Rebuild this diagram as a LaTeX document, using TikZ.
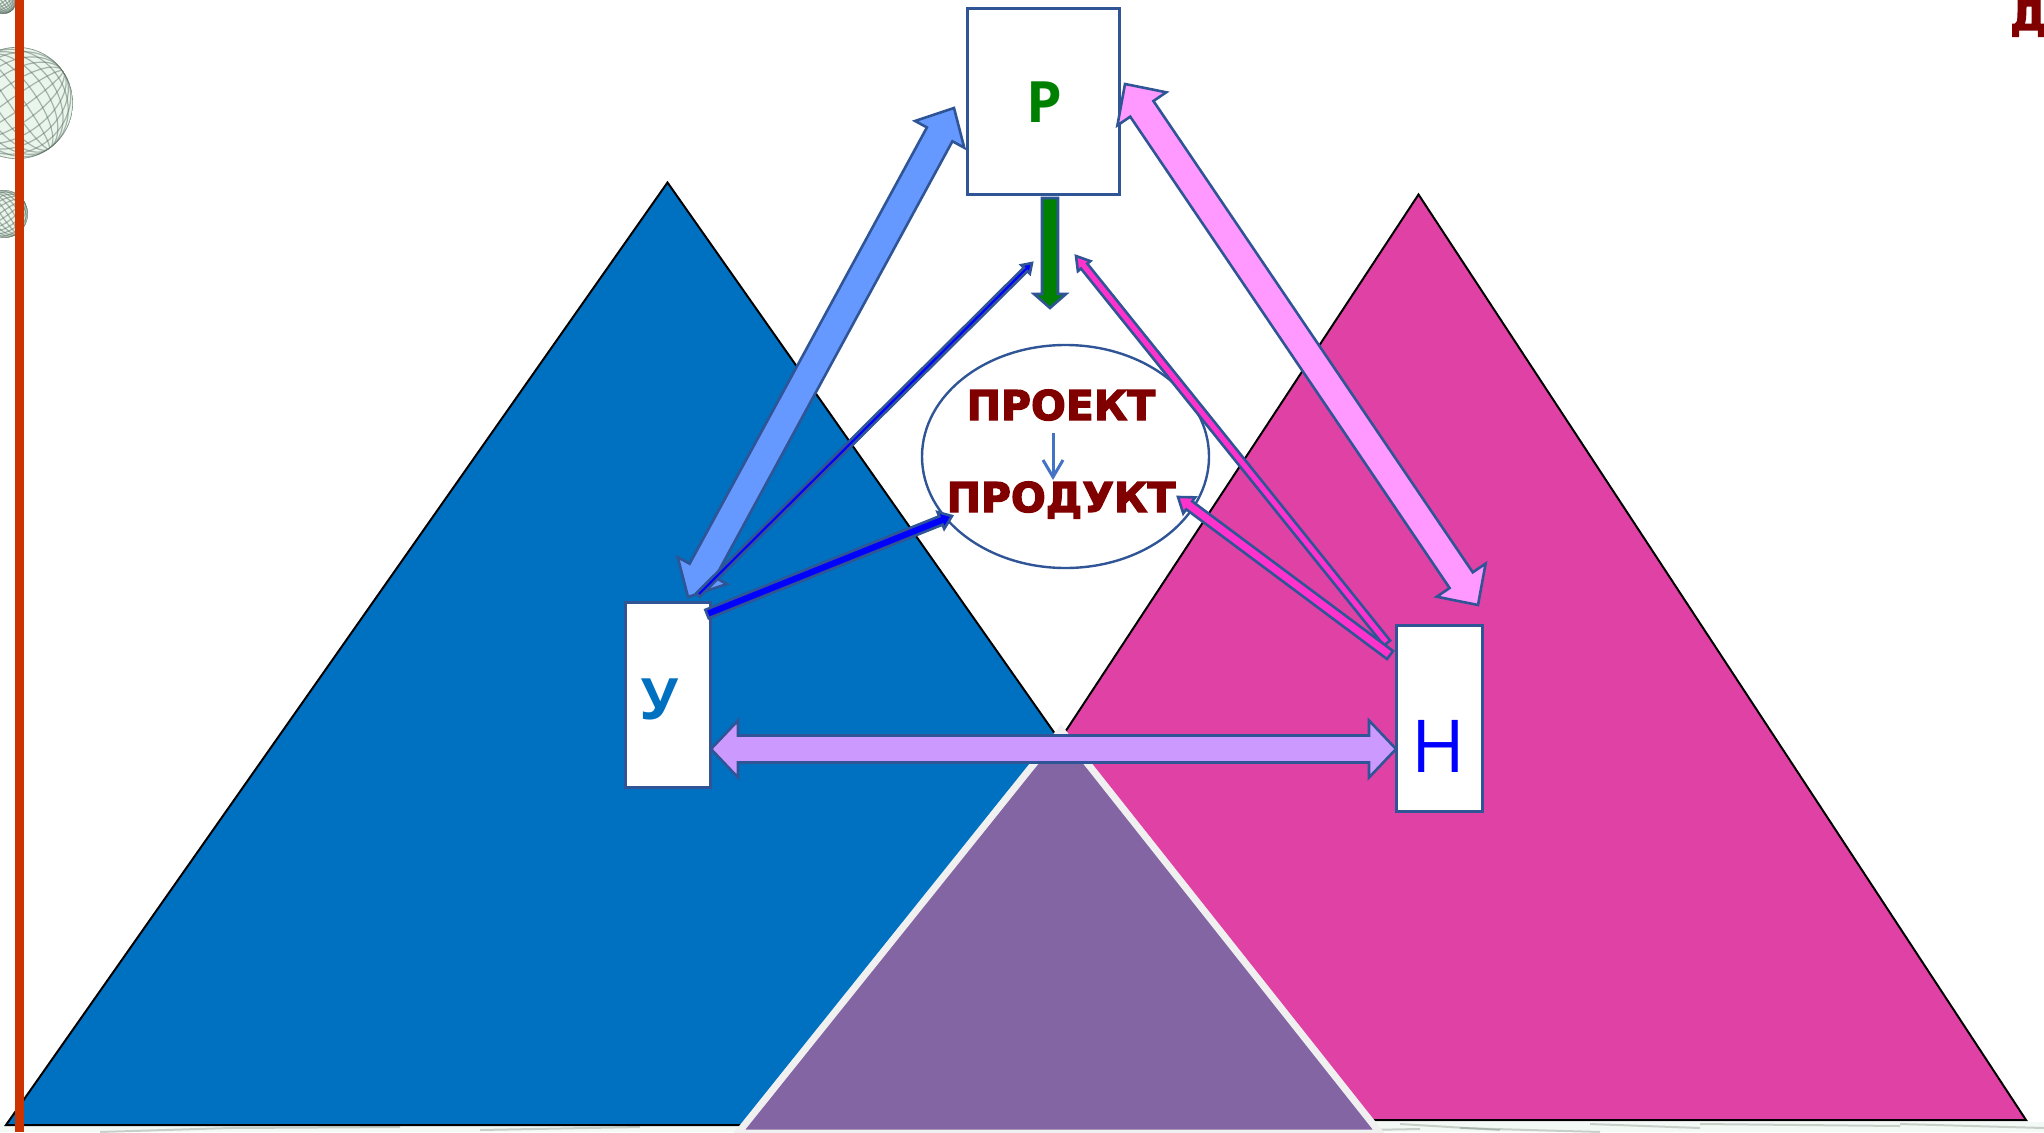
\documentclass[tikz,border=0pt]{standalone}
\usepackage{fontspec}
\setmainfont[BoldFont={DejaVu Sans Bold},BoldFeatures={FakeBold=3}]{DejaVu Sans}
\newfontfamily\labelfont{Open Sans}
\usepackage{tikz}
\usetikzlibrary{calc,shapes.geometric}
\definecolor{outline}{HTML}{2F5597}
\definecolor{deepred}{HTML}{800000}
\definecolor{blueside}{HTML}{0070C0}
\definecolor{pinkside}{HTML}{E041A5}
\definecolor{midside}{HTML}{8265A2}
\definecolor{redline}{HTML}{CC3300}
\definecolor{skyarrow}{HTML}{6699FF}
\definecolor{rosearrow}{HTML}{FF99FF}
\definecolor{lilacarrow}{HTML}{CC99FF}
\definecolor{hotarrow}{HTML}{FF33CC}
\definecolor{smallarrow}{HTML}{4472C4}
\definecolor{meshgrey}{HTML}{5F7468}
\definecolor{meshpale}{HTML}{EAF5EC}
\tikzset{
	side/.style={draw=black,line width=2pt,line join=miter},
	role/.style={draw=outline,line width=2.6pt,fill=white,inner sep=0pt},
	linkarrow/.style={draw=outline,line width=2.6pt,line join=miter},
	title/.style={text=deepred,inner sep=0pt,font=\fontsize{41}{48}\selectfont\bfseries},
	mesh/.style={draw=meshgrey,line width=1.2pt,opacity=.5},
	streak/.style={draw=meshgrey,line width=2pt,opacity=.3}
}
% #1 style, #2 from, #3 to, #4 half shaft, #5 half head, #6 head length
\newcommand{\onearrow}[6]{
	\coordinate (hb) at ($(#3)!#6pt!(#2)$);
	\coordinate (tb) at (#2);
	\draw[#1]
	($(tb)!#4pt!90:(hb)$) -- ($(hb)!#4pt!-90:(tb)$) -- ($(hb)!#5pt!-90:(tb)$) -- (#3)
	-- ($(hb)!#5pt!90:(tb)$) -- ($(hb)!#4pt!90:(tb)$) -- ($(tb)!#4pt!-90:(hb)$) -- cycle;
}
\newcommand{\botharrow}[6]{
	\coordinate (ha) at ($(#2)!#6pt!(#3)$);
	\coordinate (hb) at ($(#3)!#6pt!(#2)$);
	\draw[#1]
	(#2) -- ($(ha)!#5pt!90:(hb)$) -- ($(ha)!#4pt!90:(hb)$) -- ($(hb)!#4pt!-90:(ha)$) -- ($(hb)!#5pt!-90:(ha)$)
	-- (#3)
	-- ($(hb)!#5pt!90:(ha)$) -- ($(hb)!#4pt!90:(ha)$) -- ($(ha)!#4pt!-90:(hb)$) -- ($(ha)!#5pt!-90:(hb)$) -- cycle;
}
% #1 centre, #2 radius
\newcommand{\globe}[2]{
	\begin{scope}
		\clip (#1) circle (#2pt);
		\fill[meshpale] (#1) circle (#2pt);
		\foreach \k in {.12,.35,.55,.72,.87,1} {
			\draw[mesh,rotate around={35:(#1)}] (#1) ellipse ({\k*#2pt} and #2pt);
			\draw[mesh,rotate around={35:(#1)}] (#1) ellipse (#2pt and {\k*#2pt});
		}
	\end{scope}
}
\begin{document}
\begin{tikzpicture}[x=1pt,y=-1pt]
	\useasboundingbox (0,0) rectangle (2044,1132);
	\clip (0,0) rectangle (2044,1132);
	\globe{17,103}{56}
	\globe{4,214}{24}
	\globe{3,0}{14}
	% streaks along the bottom
	\fill[meshpale!60!white] (0,1122) rectangle (2044,1132);
	\foreach \xa/\xb/\ya/\yb in {100/230/1132/1128,230/400/1128/1127,480/640/1130/1127,1400/1500/1124/1130,1590/1700/1124/1128,1700/1900/1124/1126,1900/2044/1124/1128,1250/1420/1132/1129,1460/1600/1128/1132}
		\draw[streak] (\xa,\ya) -- (\xb,\yb);

	\coordinate (blueTop) at (667.5,182.5);
	\coordinate (blueLeft) at (6,1125);
	\coordinate (blueRight) at (1330,1125);
	\coordinate (pinkTop) at (1418.5,194.5);
	\coordinate (pinkLeft) at (810,1120);
	\coordinate (pinkRight) at (2026,1120);
	\coordinate (midTop) at (1061,730);
	\coordinate (midLeft) at (738,1133);
	\coordinate (midRight) at (1380,1133);
	\draw[side,fill=blueside] (blueTop) -- (blueLeft) -- (blueRight) -- cycle;
	\draw[side,fill=pinkside] (pinkTop) -- (pinkLeft) -- (pinkRight) -- cycle;
	\draw[draw=white!94!black,line width=7pt,fill=midside] (midTop) -- (midLeft) -- (midRight) -- cycle;

	\fill[redline] (15,0) rectangle (24,1132);

	\node[role,minimum width=152pt,minimum height=186pt] (boxP) at (1043.5,101.5) {};
	\node[role,minimum width=85pt,minimum height=185pt] (boxU) at (668,695) {};
	\node[role,minimum width=86pt,minimum height=186pt] (boxN) at (1439.5,718.5) {};
	\node[inner sep=0pt,text=green!50!black,font=\labelfont\fontsize{57}{64}\selectfont\bfseries] (letterP) at (1044,102) {Р};
	\node[inner sep=0pt,text=blueside,font=\labelfont\fontsize{57}{64}\selectfont\bfseries] (letterU) at (660,699) {У};
	\node[inner sep=0pt,text=blue,font=\labelfont\fontsize{73}{80}\selectfont] (letterN) at (1438,746) {Н};

	\node[draw=outline,line width=2.4pt,ellipse,minimum width=287pt,minimum height=223pt,inner sep=0pt] (cloud) at (1065.5,456.5) {};
	\node[title,anchor=base] (project) at (1061,420) {ПРОЕКТ};
	\node[title,anchor=base] (product) at (1061,512) {ПРОДУКТ};
	\node[title,anchor=base west] (cutoff) at (2010,30) {Д};
	\coordinate (smallFrom) at (1053,433);
	\coordinate (smallTo) at (1053,477);
	\draw[draw=smallarrow,line width=3pt] (smallFrom) -- (smallTo);
	\draw[draw=smallarrow,line width=3pt] (1043,460) -- (smallTo) -- (1063,460);

	\coordinate (blueUp) at (954,108);
	\coordinate (blueDown) at (688,597);
	\coordinate (pinkUp) at (1125,84);
	\coordinate (pinkDown) at (1478,605);
	\coordinate (violetL) at (711,749);
	\coordinate (violetR) at (1396,749);
	\coordinate (greenFrom) at (1050,198);
	\coordinate (greenTo) at (1050,308);
	\coordinate (thinAFrom) at (698,595);
	\coordinate (thinATo) at (1032,263);
	\coordinate (thinBFrom) at (707,614);
	\coordinate (thinBTo) at (952,516);
	\coordinate (thinCFrom) at (1387,643);
	\coordinate (thinCTo) at (1076,256);
	\coordinate (thinDFrom) at (1390,655);
	\coordinate (thinDTo) at (1178,497);
	\botharrow{linkarrow,fill=skyarrow}{blueUp}{blueDown}{14.5}{28}{30}
	\botharrow{linkarrow,fill=rosearrow}{pinkUp}{pinkDown}{14}{29.5}{30}
	\botharrow{linkarrow,fill=lilacarrow}{violetL}{violetR}{13.5}{28.5}{27}
	\onearrow{linkarrow,fill=green!50!black}{greenFrom}{greenTo}{8}{16}{14}
	\onearrow{linkarrow,fill=blue}{thinAFrom}{thinATo}{2.5}{6}{9}
	\onearrow{linkarrow,fill=blue}{thinBFrom}{thinBTo}{4.5}{9}{12}
	\onearrow{linkarrow,fill=hotarrow}{thinCFrom}{thinCTo}{4}{8}{13}
	\onearrow{linkarrow,fill=hotarrow}{thinDFrom}{thinDTo}{5}{10}{14}
\end{tikzpicture}
\end{document}
